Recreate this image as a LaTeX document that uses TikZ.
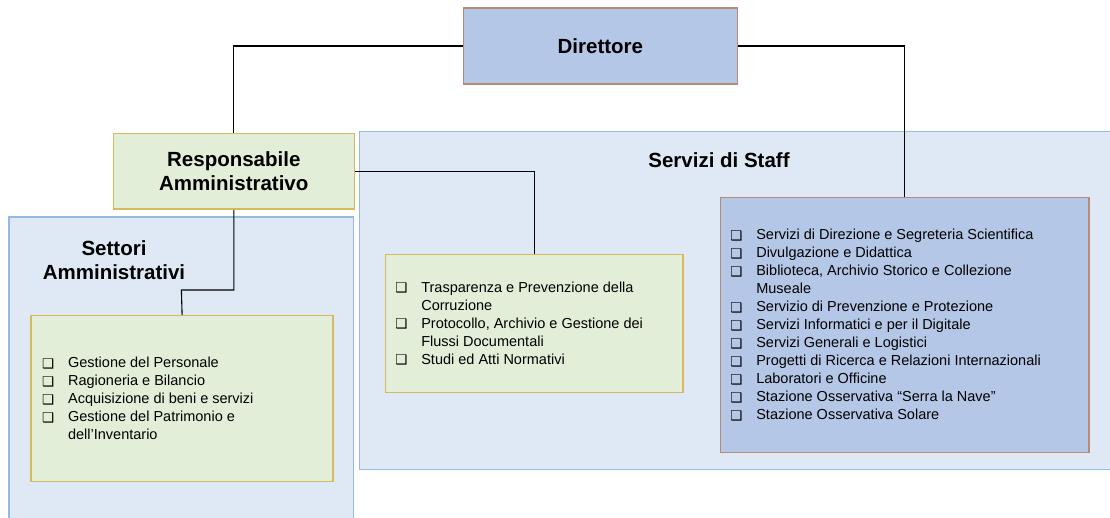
\documentclass[tikz,border=0pt]{standalone}
\usepackage{fontspec}
\setmainfont{Liberation Sans}
\newfontfamily\dejavu{DejaVu Sans}
\definecolor{areafill}{RGB}{222,233,245}
\definecolor{areaborder}{RGB}{150,185,222}
\definecolor{dirfill}{RGB}{180,199,231}
\definecolor{dirborder}{RGB}{184,138,118}
\definecolor{grfill}{RGB}{226,238,216}
\definecolor{grborder}{RGB}{214,186,92}
\newcommand{\bulmark}{\raisebox{-0.5pt}{\dejavu\fontsize{13.5}{13.5}\selectfont ❑}}
\newcommand{\itm}{\makebox[26pt][l]{\bulmark}}
\newcommand{\cont}{\hspace*{26pt}}
\tikzset{
  area/.style={fill=areafill, inner sep=0pt, anchor=north west},
  areaedge/.style={draw=areaborder, line width=1.2pt},
  dirbox/.style={draw=dirborder, fill=dirfill, line width=1.5pt, inner sep=0pt, anchor=north west,
    font=\fontsize{20.5}{23.5}\selectfont\bfseries, align=center},
  greenbox/.style={draw=grborder, fill=grfill, line width=1.5pt, inner sep=0pt, anchor=north west,
    font=\fontsize{20.5}{23.5}\selectfont\bfseries, align=center},
  head/.style={font=\fontsize{20.5}{23.5}\selectfont\bfseries, align=center, inner sep=0pt},
  listtext/.style={font=\fontsize{14.5}{18}\selectfont, align=left, inner sep=0pt, anchor=west},
  link/.style={draw=black, line width=1.1pt},
}
\begin{document}
\begin{tikzpicture}[x=1pt,y=-1pt]
\useasboundingbox (0,0) rectangle (1110,518);
\clip (0,0) rectangle (1110,518);
% background areas (open at the picture's edges)
\node[area, minimum width=344pt, minimum height=320pt] (settori) at (9,217) {};
\node[area, minimum width=780pt, minimum height=337.3pt] (staff) at (359.3,131.7) {};
\draw[areaedge] (settori.south west) -- (settori.north west) -- (settori.north east) -- (settori.south east);
\draw[areaedge] (staff.north east) -- (staff.north west) -- (staff.south west) -- (staff.south east);
\node[head] (settorilabel) at (114,260) {Settori\\Amministrativi};
\node[head] (stafflabel) at (719,160) {Servizi di Staff};
% main boxes
\node[dirbox, minimum width=274.3pt, minimum height=76pt] (dir) at (462.5,7.3) {Direttore};
\node[greenbox, minimum width=241.1pt, minimum height=75.6pt] (resp) at (112.5,132.7) {Responsabile\\Amministrativo};
\node[greenbox, minimum width=301.9pt, minimum height=165.7pt] (gest) at (30.4,315) {};
\node[greenbox, minimum width=297.4pt, minimum height=137.7pt] (mid) at (384.6,254) {};
\node[dirbox, minimum width=368.4pt, minimum height=255pt] (srv) at (719.6,196.7) {};
% connectors
\coordinate (bend) at (181.4,290);
\draw[link] (dir.west) -| (resp.north);
\draw[link] (dir.east) -| (srv.north);
\draw[link] (resp.east) -| (mid.north);
\draw[link] (resp.south) |- (bend) -- (gest.north);
% lists
\node[listtext] (gestlist) at ([xshift=11.5pt]gest.west) {%
\itm Gestione del Personale\\
\itm Ragioneria e Bilancio\\
\itm Acquisizione di beni e servizi\\
\itm Gestione del Patrimonio e\\
\cont dell’Inventario};
\node[listtext] (midlist) at ([xshift=10.5pt]mid.west) {%
\itm Trasparenza e Prevenzione della\\
\cont Corruzione\\
\itm Protocollo, Archivio e Gestione dei\\
\cont Flussi Documentali\\
\itm Studi ed Atti Normativi};
\node[listtext] (srvlist) at ([xshift=10.5pt]srv.west) {%
\itm Servizi di Direzione e Segreteria Scientifica\\
\itm Divulgazione e Didattica\\
\itm Biblioteca, Archivio Storico e Collezione\\
\cont Museale\\
\itm Servizio di Prevenzione e Protezione\\
\itm Servizi Informatici e per il Digitale\\
\itm Servizi Generali e Logistici\\
\itm Progetti di Ricerca e Relazioni Internazionali\\
\itm Laboratori e Officine\\
\itm Stazione Osservativa “Serra la Nave”\\
\itm Stazione Osservativa Solare};
\end{tikzpicture}
\end{document}
